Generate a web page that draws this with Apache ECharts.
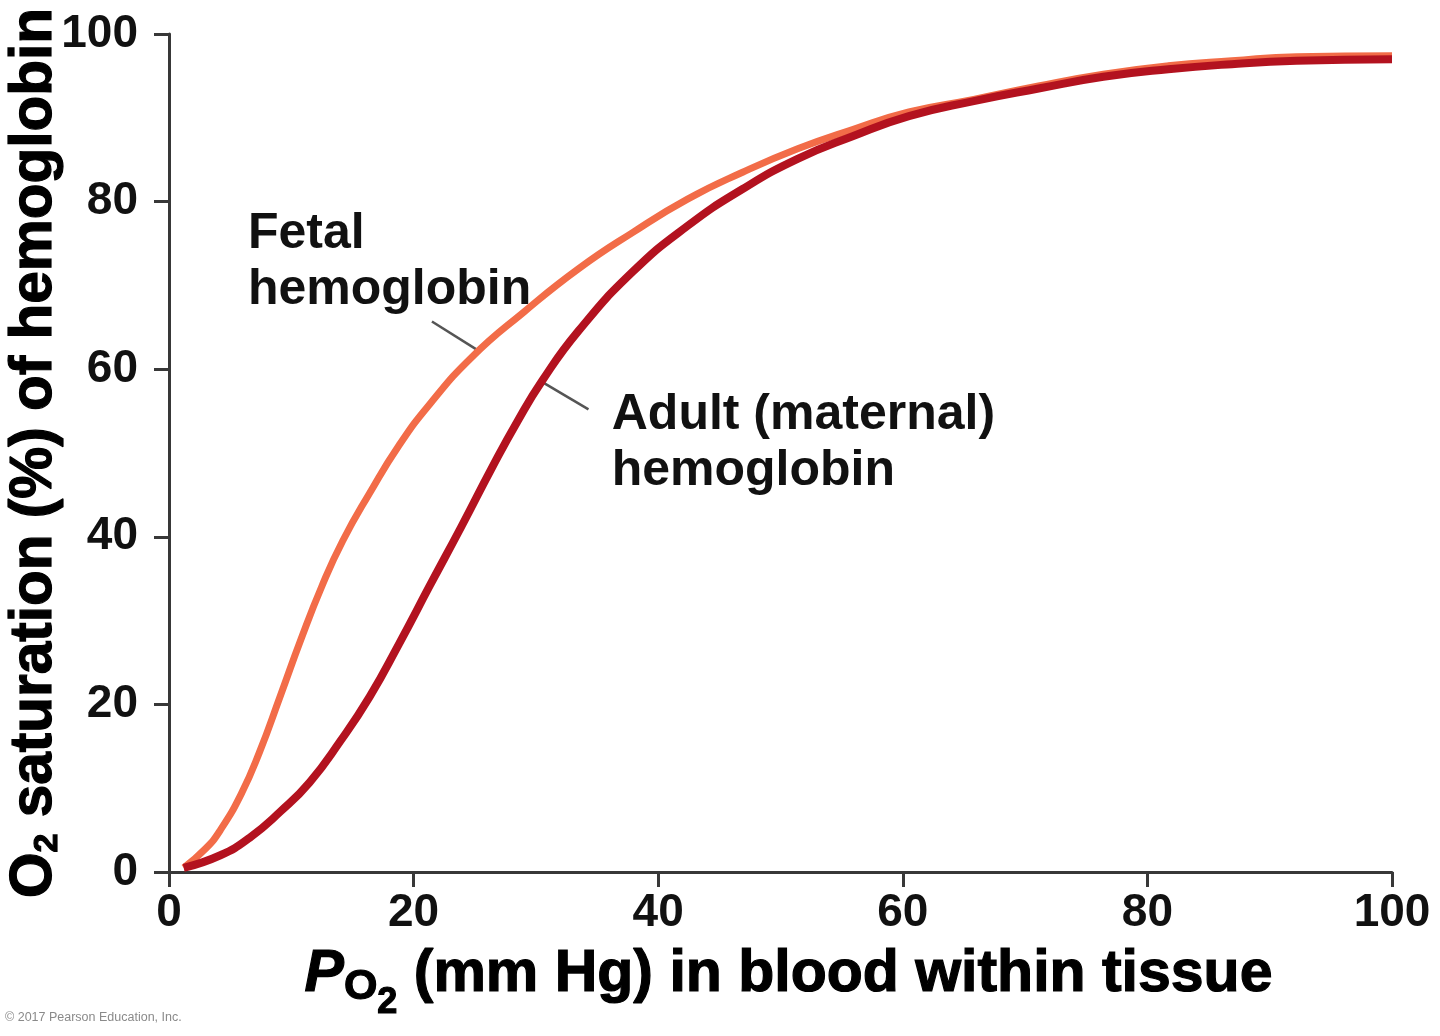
<!DOCTYPE html>
<html><head><meta charset="utf-8">
<script src="https://cdn.jsdelivr.net/npm/echarts@6/dist/echarts.min.js"></script>
<style>html,body{margin:0;padding:0;background:#fff}#c{width:1440px;height:1036px}</style>
</head><body><div id="c"></div>
<script>
// ---- data ----
const xTickLabels = ['0', '20', '40', '60', '80', '100'];
const yTickLabels = ['0', '20', '40', '60', '80', '100'];

const fetalPO2 = [1.2, 3.0, 4.2, 5.9, 7.4, 9.1, 10.8, 12.5, 14.2, 16.4, 18.8, 21.3, 24.8, 29.0, 33.5, 37.9, 42.4, 46.9, 51.4, 55.9, 60.5, 65.8, 71.1, 76.4, 81.7, 86.9, 92.2, 100];
const fetalSat = [0.5, 2.8, 5.0, 9.3, 14.3, 21.0, 27.8, 34.1, 39.5, 45.2, 50.9, 55.8, 61.5, 66.8, 72.0, 76.3, 80.3, 83.5, 86.3, 88.6, 90.7, 92.2, 93.8, 95.2, 96.2, 96.8, 97.3, 97.4];

const adultPO2 = [1.2, 4.2, 6.6, 9.1, 11.5, 14.0, 16.4, 18.8, 21.3, 23.9, 26.5, 28.5, 30.5, 33.5, 37.9, 42.4, 46.9, 51.4, 55.9, 60.5, 65.8, 71.1, 76.4, 81.7, 86.9, 92.2, 100];
const adultSat = [0.5, 2.0, 4.1, 7.2, 10.7, 15.6, 20.9, 27.2, 34.1, 41.2, 48.5, 53.8, 58.6, 64.6, 71.6, 77.1, 81.5, 85.1, 87.8, 90.2, 92.0, 93.5, 94.9, 95.8, 96.4, 96.8, 97.0];

const fetalText = ['Fetal', 'hemoglobin'];
const adultText = ['Adult (maternal)', 'hemoglobin'];
// annotation anchors in data units
const fetalTextAt = [6.45, 79.5];
const adultTextAt = [36.2, 57.8];
const fetalLeader = [[21.5, 65.7], [25.1, 62.4]];
const adultLeader = [[30.6, 58.4], [34.3, 55.2]];
const copyright = '\u00A9 2017 Pearson Education, Inc.';

// ---- chart ----
const FONT = '"Liberation Sans", Arial, Helvetica, sans-serif';
const AX = '#383838';
const chart = echarts.init(document.getElementById('c'), null, {renderer: 'canvas'});

const zip = (a, b) => a.map((v, i) => [v, b[i]]);

const axisCommon = {
  type: 'value', min: 0, max: 100, interval: 20,
  splitLine: {show: false},
  axisLine: {show: true, onZero: false, lineStyle: {color: AX, width: 3}},
  axisTick: {show: true, inside: false, length: 15, lineStyle: {color: AX, width: 3}},
};
const bold = (size, extra) => Object.assign({fontSize: size, fontWeight: 'bold', fontFamily: FONT, color: '#000',
  textBorderColor: '#000', textBorderWidth: 1.2}, extra || {});

chart.setOption({
  animation: false,
  backgroundColor: '#ffffff',
  grid: {left: 169, right: 48, top: 34, bottom: 164, containLabel: false, outerBoundsMode: 'none'},
  xAxis: Object.assign({}, axisCommon, {
    axisLabel: {margin: 18, fontSize: 46, fontWeight: 'bold', color: '#111', fontFamily: FONT,
      formatter: v => xTickLabels[Math.round(v / 20)]},
    name: '{pi|P}{o|O}{s|2}{b| (mm Hg) in blood within tissue}',
    nameLocation: 'middle', nameGap: 57,
    nameTextStyle: Object.assign(bold(59), {
      padding: [0, 0, 0, 16],
      rich: {
        pi: bold(59, {fontStyle: 'italic'}),
        o: bold(43, {padding: [24, 0, 0, 0]}),
        s: bold(36, {padding: [56, 0, 0, 0]}),
        b: bold(59)
      }
    })
  }),
  yAxis: Object.assign({}, axisCommon, {
    axisLabel: {margin: 31, fontSize: 46, fontWeight: 'bold', color: '#111', fontFamily: FONT,
      formatter: v => yTickLabels[Math.round(v / 20)]},
    name: '{b|O}{s|2}{b| saturation (%) of hemoglobin}',
    nameLocation: 'middle', nameRotate: 90, nameGap: 104, nameMoveOverlap: false,
    nameTextStyle: Object.assign(bold(58.5), {
      rich: {
        s: bold(34, {padding: [26, 0, 0, 0]}),
        b: bold(58.5)
      }
    })
  }),
  series: [
    {
      name: 'Fetal hemoglobin', type: 'line', data: zip(fetalPO2, fetalSat),
      showSymbol: false, smooth: 0.5, z: 2,
      lineStyle: {color: '#F26C48', width: 7, cap: 'butt'}
    },
    {
      name: 'Adult (maternal) hemoglobin', type: 'line', data: zip(adultPO2, adultSat),
      showSymbol: false, smooth: 0.5, z: 3,
      lineStyle: {color: '#B3121F', width: 8, cap: 'butt'}
    }
  ]
});

function px(p) { return chart.convertToPixel({gridIndex: 0}, p); }
const fA = px(fetalTextAt), aA = px(adultTextAt);
const fL0 = px(fetalLeader[0]), fL1 = px(fetalLeader[1]);
const aL0 = px(adultLeader[0]), aL1 = px(adultLeader[1]);
const annoStyle = {fontSize: 50, fontWeight: 'bold', fontFamily: FONT, fill: '#111', lineHeight: 56};

chart.setOption({
  graphic: [
    {type: 'text', left: fA[0], top: fA[1], style: Object.assign({text: fetalText.join('\n')}, annoStyle)},
    {type: 'text', left: aA[0], top: aA[1], style: Object.assign({text: adultText.join('\n')}, annoStyle)},
    {type: 'line', shape: {x1: fL0[0], y1: fL0[1], x2: fL1[0], y2: fL1[1]}, style: {stroke: '#555', lineWidth: 2.5}, z: 1},
    {type: 'line', shape: {x1: aL0[0], y1: aL0[1], x2: aL1[0], y2: aL1[1]}, style: {stroke: '#555', lineWidth: 2.5}, z: 1},
    {type: 'text', left: 5, top: 1011, style: {text: copyright, fontSize: 12.5, fontFamily: FONT, fill: '#8a8a8a'}}
  ]
});
</script>
</body></html>
